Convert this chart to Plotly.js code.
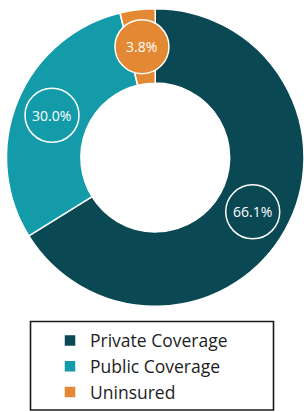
<!DOCTYPE html>
<html>
<head>
<meta charset="utf-8">
<script src="https://cdn.plot.ly/plotly-3.0.1.min.js"></script>
<style>html,body{margin:0;padding:0;background:#fff;}#chart{width:304px;height:412px;}</style>
</head>
<body>
<div id="chart"></div>
<script>
// Data
const categories = ["Private Coverage", "Public Coverage", "Uninsured"];
const shares = [66.1, 30.0, 3.8];
const labelsText = ["66.1%", "30.0%", "3.8%"];
const colors = ["#0a4954", "#139ba9", "#e38833"];

const W = 304, H = 412;
// pie placement in pixels
const cx = 155.25, cy = 157.5, R = 148.75;
const xDom = [(cx - R) / W, (cx + R) / W];
const yDom = [1 - (cy + R) / H, 1 - (cy - R) / H];
const hole = 0.5;

// label positions computed from the data (mid-angle of each slice, mid radius of ring)
const total = shares.reduce((a, b) => a + b, 0);
let cum = 0;
const lx = [], ly = [];
const midR = (1 + hole) / 2;
shares.forEach(v => {
  const mid = (cum + v / 2) / total * 2 * Math.PI; // clockwise from 12 o'clock
  lx.push((cx + R * midR * Math.sin(mid)) / W);
  ly.push(1 - (cy - R * midR * Math.cos(mid)) / H);
  cum += v;
});

const pie = {
  type: "pie",
  labels: categories,
  values: shares,
  sort: false,
  direction: "clockwise",
  rotation: 0,
  hole: hole,
  textinfo: "none",
  hoverinfo: "label+percent",
  marker: { colors: colors, line: { color: "#ffffff", width: 1.5 } },
  domain: { x: xDom, y: yDom },
  showlegend: true
};

const badgeR = 27;
const shapes = categories.map((c, i) => ({
  type: "circle",
  xref: "paper", yref: "paper",
  xsizemode: "pixel", ysizemode: "pixel",
  xanchor: lx[i], yanchor: ly[i],
  x0: -badgeR, x1: badgeR, y0: -badgeR, y1: badgeR,
  line: { color: "#ffffff", width: 1.5 },
  fillcolor: i === 2 ? colors[2] : "rgba(0,0,0,0)",
  layer: "above"
}));
shapes.push({
  type: "rect",
  xref: "paper", yref: "paper",
  x0: 30.5 / W, x1: 273.5 / W,
  y0: 1 - 410 / H, y1: 1 - 321.5 / H,
  line: { color: "#1a1a1a", width: 1.6 },
  fillcolor: "rgba(0,0,0,0)"
});

const annotations = labelsText.map((t, i) => ({
  text: t,
  xref: "paper", yref: "paper",
  x: lx[i], y: ly[i],
  xanchor: "center", yanchor: "middle",
  showarrow: false,
  font: { family: "Open Sans, sans-serif", size: 14, color: "#ffffff" }
}));

const layout = {
  width: W,
  height: H,
  margin: { l: 0, r: 0, t: 0, b: 0 },
  paper_bgcolor: "#ffffff",
  showlegend: true,
  legend: {
    x: 50 / W,
    xanchor: "left",
    y: 1 - 322.5 / H,
    yanchor: "top",
    bgcolor: "rgba(0,0,0,0)",
    borderwidth: 0,
    font: { family: "Open Sans, sans-serif", size: 17.5, color: "#1e1e1e" },
    traceorder: "normal"
  },
  shapes: shapes,
  annotations: annotations
};

Plotly.newPlot("chart", [pie], layout, { displayModeBar: false, staticPlot: true });
</script>
</body>
</html>
